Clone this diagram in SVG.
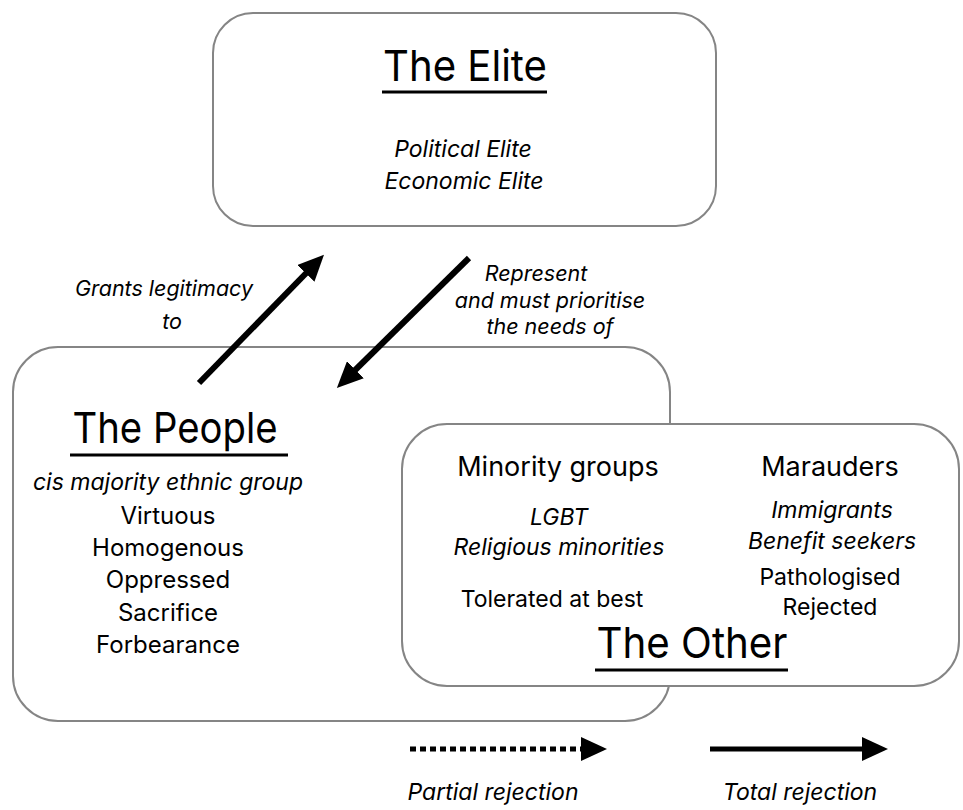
<svg xmlns="http://www.w3.org/2000/svg" width="963" height="810" viewBox="0 0 963 810">
<defs>
<style>
.box{fill:#fff;stroke:#858585;stroke-width:2}
text{font-family:Inter,"Liberation Sans",sans-serif;fill:#000;text-anchor:middle}
.title{font-size:43px}
.it{font-style:italic;font-size:23px}
.lab{font-style:italic;font-size:21.5px}
.n{font-size:23px}
.pb{font-size:24px}
.h{font-size:27px}
.ul{stroke:#000;stroke-width:3.2}
.arr{stroke:#000;stroke-width:6;fill:none}
.leg{stroke:#000;stroke-width:5;fill:none}
</style>
<marker id="ah" viewBox="0 0 26 24" refX="16" refY="12" markerWidth="26" markerHeight="24" orient="auto" markerUnits="userSpaceOnUse">
<path d="M0,0 L26,12 L0,24 z" fill="#000"/>
</marker>
</defs>
<rect width="963" height="810" fill="#fff"/>
<g id="elite">
<rect class="box" x="213" y="13" width="503" height="213" rx="40"/>
<text class="title" x="465" y="81" textLength="164" lengthAdjust="spacingAndGlyphs">The Elite</text>
<line class="ul" x1="382" y1="92" x2="547" y2="92"/>
<text class="it" x="463" y="157">Political Elite</text>
<text class="it" x="464" y="189">Economic Elite</text>
</g>
<g id="people">
<rect class="box" x="13" y="347" width="657" height="374" rx="45"/>
<text class="title" x="175" y="443" textLength="205" lengthAdjust="spacingAndGlyphs">The People</text>
<line class="ul" x1="70" y1="455" x2="288" y2="455"/>
<text class="it" x="168" y="490">cis majority ethnic group</text>
<text class="pb" x="168" y="524">Virtuous</text>
<text class="pb" x="168" y="556">Homogenous</text>
<text class="pb" x="168" y="588">Oppressed</text>
<text class="pb" x="168" y="621">Sacrifice</text>
<text class="pb" x="168" y="653">Forbearance</text>
</g>
<g id="other">
<rect class="box" x="402" y="424" width="557" height="262" rx="45"/>
<text class="h" x="558" y="476">Minority groups</text>
<text class="it" x="559" y="525">LGBT</text>
<text class="it" x="559" y="555">Religious minorities</text>
<text class="n" x="552" y="607">Tolerated at best</text>
<text class="h" x="830" y="476">Marauders</text>
<text class="it" x="832" y="518">Immigrants</text>
<text class="it" x="832" y="549">Benefit seekers</text>
<text class="n" x="830" y="585">Pathologised</text>
<text class="n" x="830" y="615">Rejected</text>
<text class="title" x="692" y="658" textLength="191" lengthAdjust="spacingAndGlyphs">The Other</text>
<line class="ul" x1="595" y1="670" x2="788" y2="670"/>
</g>
<g id="connectors">
<line class="arr" x1="199" y1="383" x2="317" y2="262" marker-end="url(#ah)"/>
<line class="arr" x1="469" y1="258" x2="344" y2="381" marker-end="url(#ah)"/>
<text class="lab" x="164" y="296">Grants legitimacy</text>
<text class="lab" x="172" y="329">to</text>
<text class="lab" x="536" y="281">Represent</text>
<text class="lab" x="550" y="308">and must prioritise</text>
<text class="lab" x="550" y="334">the needs of</text>
</g>
<g id="legend">
<line class="leg" x1="410" y1="749" x2="597" y2="749" stroke-dasharray="6,4" marker-end="url(#ah)"/>
<line class="leg" x1="710" y1="749" x2="878" y2="749" marker-end="url(#ah)"/>
<text class="it" x="493" y="800">Partial rejection</text>
<text class="it" x="800" y="800">Total rejection</text>
</g>
</svg>
